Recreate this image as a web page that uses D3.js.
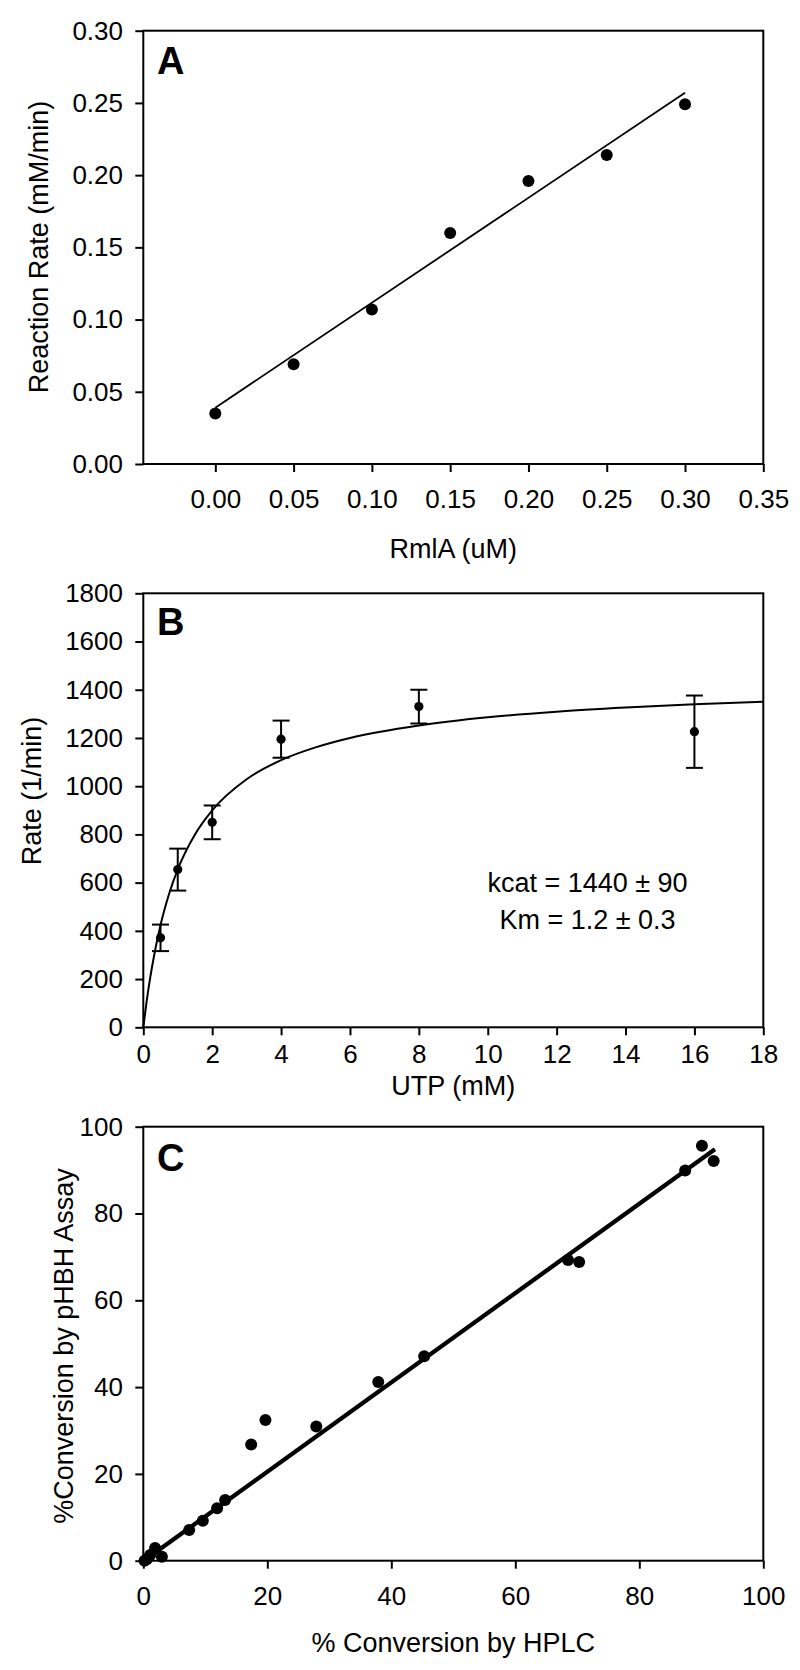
<!DOCTYPE html>
<html><head><meta charset="utf-8">
<script src="https://cdn.jsdelivr.net/npm/d3@7"></script>
<style>
body{margin:0;background:#fff}
svg{display:block}
text{font-family:"Liberation Sans",Arial,sans-serif;fill:#000}
</style>
</head><body>
<svg id="chart" width="800" height="1670"></svg>
<script>
// ---------- Panel A data ----------
const aX = [0.00, 0.05, 0.10, 0.15, 0.20, 0.25, 0.30];
const aY = [0.035, 0.069, 0.107, 0.160, 0.196, 0.214, 0.249];
const aFitX = [0.00, 0.30];
const aFitY = [0.039, 0.257];
const aXTicks = [0.00, 0.05, 0.10, 0.15, 0.20, 0.25, 0.30, 0.35];
const aYTicks = [0.00, 0.05, 0.10, 0.15, 0.20, 0.25, 0.30];

// ---------- Panel B data ----------
const bX = [0.5, 1, 2, 4, 8, 16];
const bY = [371, 654, 850, 1195, 1330, 1226];
const bErr = [55, 87, 70, 77, 70, 150];
const bCurveX = [0, 0.1, 0.25, 0.5, 0.75, 1, 1.5, 2, 3, 4, 5, 6, 8, 10, 12, 14, 16, 18];
const bCurveY = [0, 111, 248, 424, 554, 655, 800, 900, 1029, 1108, 1161, 1200, 1252, 1286, 1309, 1326, 1340, 1350];
const bXTicks = [0, 2, 4, 6, 8, 10, 12, 14, 16, 18];
const bYTicks = [0, 200, 400, 600, 800, 1000, 1200, 1400, 1600, 1800];
const bText = ["kcat = 1440 \u00b1 90", "Km = 1.2 \u00b1 0.3"];

// ---------- Panel C data ----------
const cX = [0.2, 0.6, 1.1, 1.9, 3.0, 7.4, 9.6, 11.9, 13.2, 17.4, 19.7, 27.9, 37.9, 45.3, 68.5, 70.3, 87.4, 90.1, 92.0];
const cY = [0.0, 0.4, 1.3, 2.9, 0.9, 7.1, 9.2, 12.1, 14.0, 26.8, 32.4, 30.9, 41.2, 47.1, 69.3, 68.8, 89.9, 95.6, 92.1];
const cFitX = [0.3, 92.2];
const cFitY = [0.2, 94.8];
const cXTicks = [0, 20, 40, 60, 80, 100];
const cYTicks = [0, 20, 40, 60, 80, 100];

const svg = d3.select("#chart");
const FONT = '"Liberation Sans", Arial, sans-serif';
const L = 143.3, R = 763.3;

function panel(o) {
  const x = d3.scaleLinear().domain(o.xDomain).range([L, R]);
  const y = d3.scaleLinear().domain(o.yDomain).range([o.bottom, o.top]);
  const g = svg.append("g");

  const xa = g.append("g").attr("transform", `translate(0,${o.bottom})`)
    .call(d3.axisBottom(x).tickValues(o.xTicks).tickSize(8).tickPadding(o.xPad).tickFormat(o.xFmt));
  const ya = g.append("g").attr("transform", `translate(${L},0)`)
    .call(d3.axisLeft(y).tickValues(o.yTicks).tickSize(8).tickPadding(12.3).tickFormat(o.yFmt));
  [xa, ya].forEach(a => {
    a.select(".domain").remove();
    a.attr("font-size", 26).attr("font-family", FONT);
    a.selectAll("line").attr("stroke", "#000").attr("stroke-width", 2);
    a.selectAll("text").attr("fill", "#000");
  });

  g.append("rect").attr("x", L).attr("y", o.top).attr("width", R - L).attr("height", o.bottom - o.top)
    .attr("fill", "none").attr("stroke", "#000").attr("stroke-width", 2);

  g.append("text").attr("x", 157).attr("y", o.letterY).attr("font-size", 38).attr("font-weight", "bold")
    .text(o.letter);

  g.append("text").attr("x", (L + R) / 2).attr("y", o.xTitleY).attr("text-anchor", "middle")
    .attr("font-size", 27).text(o.xTitle);
  g.append("text").attr("transform", `translate(${o.yTitleX},${o.yTitleCY}) rotate(-90)`)
    .attr("text-anchor", "middle").attr("font-size", 27).text(o.yTitle);
  return {g, x, y};
}

// ---------- Panel A ----------
{
  const {g, x, y} = panel({
    xDomain: [-0.046, 0.35], yDomain: [0, 0.30], top: 30.7, bottom: 464,
    xTicks: aXTicks, yTicks: aYTicks, xFmt: d3.format(".2f"), yFmt: d3.format(".2f"), xPad: 18,
    letter: "A", letterY: 73.5, xTitle: "RmlA (uM)", xTitleY: 557.5,
    yTitle: "Reaction Rate (mM/min)", yTitleX: 47.5, yTitleCY: 247
  });
  g.append("path").datum(aFitX.map((v, i) => [v, aFitY[i]]))
    .attr("d", d3.line().x(d => x(d[0])).y(d => y(d[1])))
    .attr("stroke", "#000").attr("stroke-width", 1.8).attr("fill", "none");
  g.selectAll("circle.pt").data(aX.map((v, i) => [v, aY[i]])).join("circle")
    .attr("cx", d => x(d[0])).attr("cy", d => y(d[1])).attr("r", 6).attr("fill", "#000");
}

// ---------- Panel B ----------
{
  const {g, x, y} = panel({
    xDomain: [0, 18], yDomain: [0, 1800], top: 593.3, bottom: 1027.3,
    xTicks: bXTicks, yTicks: bYTicks, xFmt: d3.format("d"), yFmt: d3.format("d"), xPad: 9.5,
    letter: "B", letterY: 634.5, xTitle: "UTP (mM)", xTitleY: 1095,
    yTitle: "Rate (1/min)", yTitleX: 40.7, yTitleCY: 791
  });
  g.append("path").datum(bCurveX.map((v, i) => [v, bCurveY[i]]))
    .attr("d", d3.line().curve(d3.curveMonotoneX).x(d => x(d[0])).y(d => y(d[1])))
    .attr("stroke", "#000").attr("stroke-width", 2).attr("fill", "none");
  const pts = bX.map((v, i) => ({x: v, y: bY[i], e: bErr[i]}));
  const eb = g.selectAll("g.eb").data(pts).join("g").attr("stroke", "#000").attr("stroke-width", 2);
  eb.append("line").attr("x1", d => x(d.x)).attr("x2", d => x(d.x))
    .attr("y1", d => y(d.y - d.e)).attr("y2", d => y(d.y + d.e));
  eb.append("line").attr("x1", d => x(d.x) - 8.5).attr("x2", d => x(d.x) + 8.5)
    .attr("y1", d => y(d.y + d.e)).attr("y2", d => y(d.y + d.e));
  eb.append("line").attr("x1", d => x(d.x) - 8.5).attr("x2", d => x(d.x) + 8.5)
    .attr("y1", d => y(d.y - d.e)).attr("y2", d => y(d.y - d.e));
  g.selectAll("circle.pt").data(pts).join("circle")
    .attr("cx", d => x(d.x)).attr("cy", d => y(d.y)).attr("r", 4.6).attr("fill", "#000");
  g.selectAll("text.note").data(bText).join("text")
    .attr("x", 587.5).attr("y", (d, i) => 892 + i * 36.5).attr("text-anchor", "middle")
    .attr("font-size", 27).text(d => d);
}

// ---------- Panel C ----------
{
  const {g, x, y} = panel({
    xDomain: [0, 100], yDomain: [0, 100], top: 1126.7, bottom: 1560.7,
    xTicks: cXTicks, yTicks: cYTicks, xFmt: d3.format("d"), yFmt: d3.format("d"), xPad: 17.8,
    letter: "C", letterY: 1170.5, xTitle: "% Conversion by HPLC", xTitleY: 1651.5,
    yTitle: "%Conversion by pHBH Assay", yTitleX: 73, yTitleCY: 1346
  });
  g.append("path").datum(cFitX.map((v, i) => [v, cFitY[i]]))
    .attr("d", d3.line().x(d => x(d[0])).y(d => y(d[1])))
    .attr("stroke", "#000").attr("stroke-width", 4.3).attr("fill", "none");
  g.selectAll("circle.pt").data(cX.map((v, i) => [v, cY[i]])).join("circle")
    .attr("cx", d => x(d[0])).attr("cy", d => y(d[1])).attr("r", 6).attr("fill", "#000");
}
</script>
</body></html>
